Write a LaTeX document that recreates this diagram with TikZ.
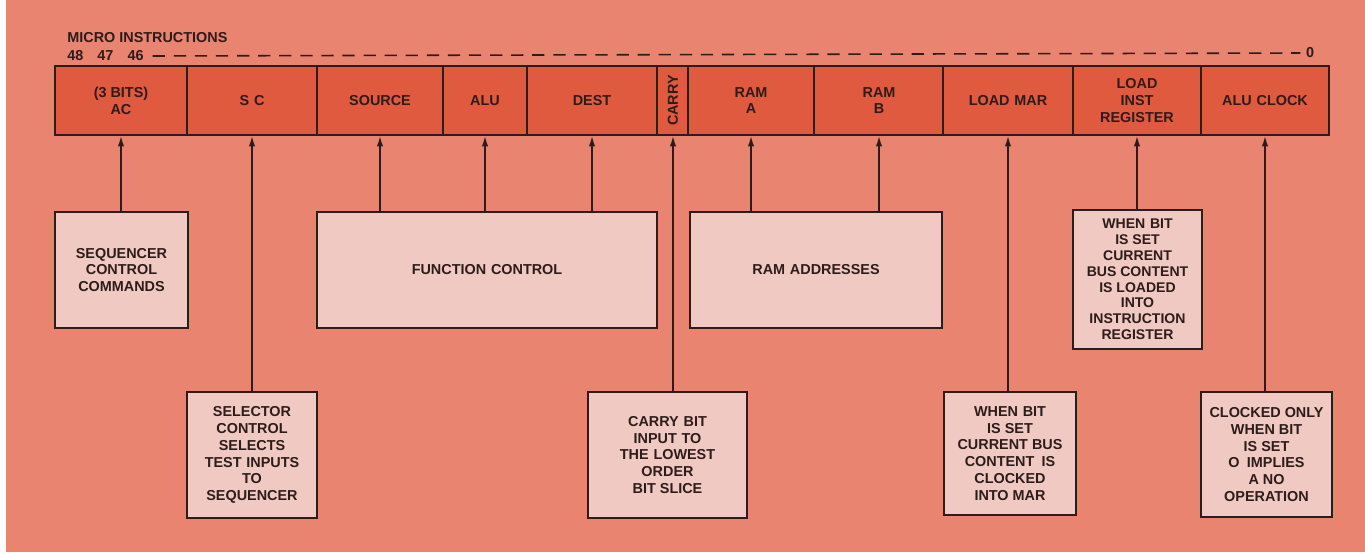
\documentclass[tikz,border=0pt]{standalone}
\usepackage{fontspec}
\setmainfont{Liberation Sans}
\usetikzlibrary{arrows.meta}
\definecolor{paper}{HTML}{E8846F}
\definecolor{fieldred}{HTML}{DF5A3E}
\definecolor{boxpink}{HTML}{F0C9C2}
\definecolor{ink}{HTML}{2E1C1A}
\begin{document}
\begin{tikzpicture}[x=0.02cm, y=-0.02cm,
    every node/.style={text=ink, font=\fontsize{8.2}{9.6}\selectfont\bfseries},
    field/.style={draw=ink, line width=0.9pt, fill=fieldred, minimum height=1.38cm, inner sep=0pt, align=center},
    note/.style={draw=ink, line width=0.9pt, fill=boxpink, inner sep=0pt, align=center},
    arrow/.style={-{Latex[length=6pt, width=3.6pt]}, draw=ink, line width=0.95pt}
  ]
  \fill[white] (0,0) rectangle (1365,552);
  \fill[paper] (6,0) rectangle (1365,552);
  \useasboundingbox (0,0) rectangle (1365,552);

  % header
  \node[anchor=west, inner sep=0pt] (title) at (67,38) {MICRO INSTRUCTIONS};
  \node[anchor=west, inner sep=0pt] (bits) at (67,56) {48\hspace{8pt}47\hspace{8pt}46};
  \node[inner sep=0pt] (zero) at (1310,53) {0};
  \draw[draw=ink, line width=0.9pt, dash pattern=on 7pt off 5pt] ([xshift=5pt]bits.east) -- ([xshift=-3pt]zero.west);

  % instruction fields
  \node[field, minimum width=2.64cm] (ac) at (121,100.5) {(3 BITS)\\AC};
  \node[field, minimum width=2.60cm] (sc) at (252,100.5) {S\,\,C};
  \node[field, minimum width=2.52cm] (src) at (380,100.5) {SOURCE};
  \node[field, minimum width=1.68cm] (alu) at (485,100.5) {ALU};
  \node[field, minimum width=2.60cm] (dest) at (592,100.5) {DEST};
  \node[field, minimum width=0.62cm] (carry) at (673,100.5) {\rotatebox{90}{CARRY}};
  \node[field, minimum width=2.52cm] (rama) at (751,100.5) {RAM\\A};
  \node[field, minimum width=2.58cm] (ramb) at (879,100.5) {RAM\\B};
  \node[field, minimum width=2.60cm] (mar) at (1008,100.5) {LOAD\,\,MAR};
  \node[field, minimum width=2.56cm] (inst) at (1137,100.5) {LOAD\\INST\\REGISTER};
  \node[field, minimum width=2.56cm] (clk) at (1265,100.5) {ALU\,\,CLOCK};

  % explanation boxes
  \node[note, minimum width=2.66cm, minimum height=2.32cm] (seqbox) at (121.5,270) {SEQUENCER\\CONTROL\\COMMANDS};
  \node[note, minimum width=6.80cm, minimum height=2.32cm] (funcbox) at (487,270) {FUNCTION\,\,CONTROL};
  \node[note, minimum width=5.04cm, minimum height=2.32cm] (rambox) at (816,270) {RAM\,\,ADDRESSES};
  \node[note, minimum width=2.58cm, minimum height=2.78cm, font=\fontsize{8}{9}\selectfont\bfseries] (instbox) at (1137.5,279.5) {WHEN\,\,BIT\\IS SET\\CURRENT\\BUS CONTENT\\IS LOADED\\INTO\\INSTRUCTION\\REGISTER};
  \node[note, minimum width=2.60cm, minimum height=2.52cm] (selbox) at (252,455) {SELECTOR\\CONTROL\\SELECTS\\TEST\,\,INPUTS\\TO\\SEQUENCER};
  \node[note, minimum width=3.18cm, minimum height=2.52cm] (carrybox) at (667.5,455) {CARRY\,\,BIT\\INPUT\,\,TO\\THE\,\,LOWEST\\ORDER\\BIT SLICE};
  \node[note, minimum width=2.64cm, minimum height=2.46cm] (marbox) at (1010,453.5) {WHEN\,\,BIT\\IS SET\\CURRENT BUS\\CONTENT\,\,\,IS\\CLOCKED\\INTO MAR};
  \node[note, minimum width=2.62cm, minimum height=2.50cm] (clkbox) at (1266.5,454.5) {CLOCKED ONLY\\WHEN BIT\\IS SET\\O\,\,\,IMPLIES\\A NO\\OPERATION};

  % connections
  \draw[arrow] (seqbox.north -| ac.south) -- (ac.south);
  \draw[arrow] (selbox.north -| sc.south) -- (sc.south);
  \draw[arrow] (funcbox.north -| src.south) -- (src.south);
  \draw[arrow] (funcbox.north -| alu.south) -- (alu.south);
  \draw[arrow] (funcbox.north -| dest.south) -- (dest.south);
  \draw[arrow] (carrybox.north -| carry.south) -- (carry.south);
  \draw[arrow] (rambox.north -| rama.south) -- (rama.south);
  \draw[arrow] (rambox.north -| ramb.south) -- (ramb.south);
  \draw[arrow] (marbox.north -| mar.south) -- (mar.south);
  \draw[arrow] (instbox.north -| inst.south) -- (inst.south);
  \draw[arrow] (clkbox.north -| clk.south) -- (clk.south);
\end{tikzpicture}
\end{document}
